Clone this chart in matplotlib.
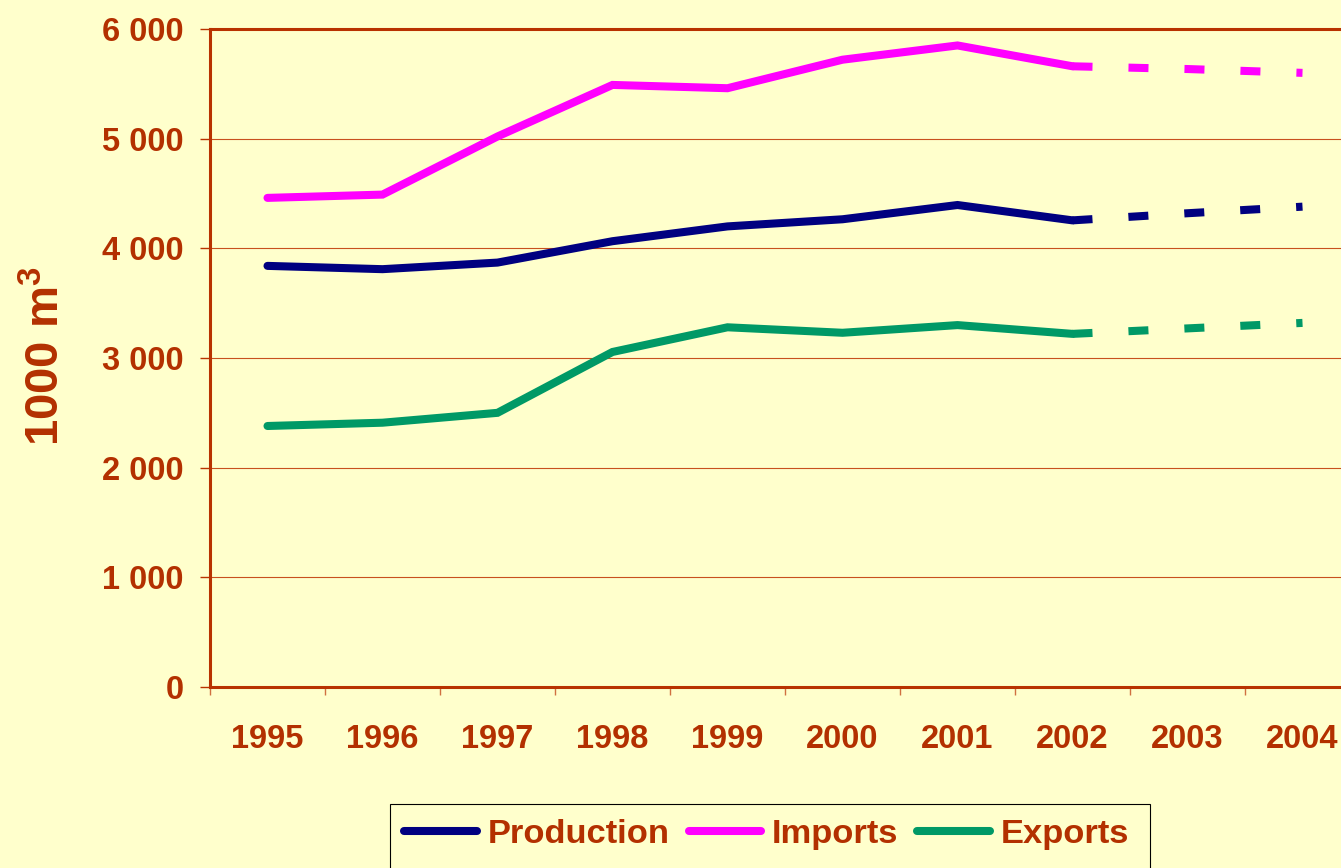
import matplotlib
matplotlib.use("Agg")
import matplotlib.pyplot as plt
from matplotlib.patches import Rectangle
from matplotlib.ticker import FixedLocator, FuncFormatter

# ---- data ----
years = ["1995", "1996", "1997", "1998", "1999", "2000", "2001", "2002", "2003", "2004"]
production = [3840, 3810, 3870, 4065, 4200, 4265, 4395, 4255, 4320, 4380]
imports = [4460, 4490, 5020, 5490, 5460, 5720, 5850, 5660, 5635, 5600]
exports = [2380, 2410, 2500, 3055, 3280, 3230, 3300, 3220, 3270, 3320]
y_ticks = [0, 1000, 2000, 3000, 4000, 5000, 6000]
series_names = ["Production", "Imports", "Exports"]
n_actual = 8  # 1995-2002 actual, 2002-2004 forecast (dashed)

# ---- style ----
BG = "#FFFFCC"
TXT = "#B33000"
SPINE = "#B83200"
GRID = "#C8501E"
colors = ["#000080", "#FF00FF", "#009966"]

plt.rcParams["font.family"] = ["Liberation Sans", "DejaVu Sans"]
plt.rcParams["font.weight"] = "bold"
plt.rcParams["mathtext.fontset"] = "custom"
plt.rcParams["mathtext.rm"] = "Liberation Sans:bold"
plt.rcParams["mathtext.it"] = "Liberation Sans:bold"
plt.rcParams["mathtext.bf"] = "Liberation Sans:bold"

W, H = 1341, 868
fig = plt.figure(figsize=(W / 100, H / 100), dpi=100, facecolor=BG)
ax_l, ax_r, ax_t, ax_b = 210, 1360, 29, 687
ax = fig.add_axes([ax_l / W, (H - ax_b) / H, (ax_r - ax_l) / W, (ax_b - ax_t) / H])
ax.set_facecolor(BG)

x = list(range(len(years)))
lw = 5.8
lw_px = lw * 100 / 72
handles = []
for vals, c, name in zip([production, imports, exports], colors, series_names):
    h, = ax.plot(x[:n_actual], vals[:n_actual], color=c, lw=lw,
                 solid_capstyle="round", solid_joinstyle="miter", label=name, zorder=3)
    ax.plot(x[n_actual - 1:], vals[n_actual - 1:], color=c, lw=lw,
            dashes=(20 / lw_px, 36 / lw_px), dash_capstyle="butt", zorder=3)
    handles.append(h)

ax.set_xlim(-0.5, len(years) - 0.5)
ax.set_ylim(0, 6000)

# y axis
ax.yaxis.set_major_locator(FixedLocator(y_ticks))
ax.yaxis.set_major_formatter(FuncFormatter(lambda v, p: f"{int(v):,}".replace(",", " ")))
ax.tick_params(axis="y", which="major", length=7, width=1, color=SPINE, pad=12,
               labelsize=23.5, labelcolor=TXT)
ax.grid(axis="y", color=GRID, lw=0.8, zorder=1)

# x axis
ax.set_xticks(x)
ax.set_xticklabels(years)
ax.set_xticks([i - 0.5 for i in range(len(years) + 1)], minor=True)
ax.tick_params(axis="x", which="major", length=0, pad=27, labelsize=23.5, labelcolor=TXT)
ax.tick_params(axis="x", which="minor", length=5.5, width=1, color="#D07040")
for lab in ax.get_xticklabels() + ax.get_yticklabels():
    lab.set_fontweight("bold")

for s in ["left", "bottom", "top", "right"]:
    ax.spines[s].set_color(SPINE)
    ax.spines[s].set_linewidth(2.2)

fig.text(47 / W, (H - 356) / H, "1000 m$^3$", rotation=90, ha="center", va="center",
         color=TXT, fontsize=34, fontweight="bold")

# legend box (extends past the bottom edge, as in the original)
fig.patches.append(Rectangle((390 / W, -20 / H), (1150 - 390) / W, (H - 804 + 20) / H,
                             transform=fig.transFigure, facecolor=BG,
                             edgecolor="black", linewidth=0.8, zorder=0))

leg = fig.legend(handles=handles, loc="upper left",
                 bbox_to_anchor=(390 / W, (H - 804) / H), ncol=3,
                 prop={"family": "Liberation Sans", "weight": "bold", "size": 24.8},
                 handlelength=2.1, handletextpad=0.32, columnspacing=0.55,
                 borderpad=0.42, frameon=False, borderaxespad=0)
for t in leg.get_texts():
    t.set_color(TXT)
for lh in leg.get_lines():
    lh.set_solid_capstyle("round")

fig.savefig("out.png", dpi=100, facecolor=BG)
